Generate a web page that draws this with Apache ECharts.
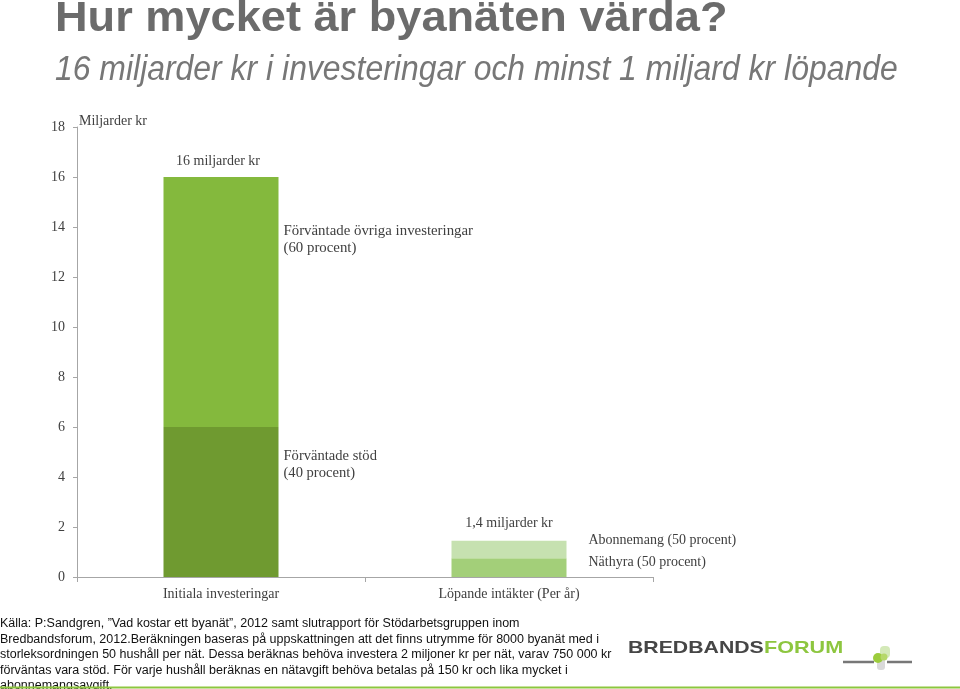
<!DOCTYPE html>
<html>
<head>
<meta charset="utf-8">
<script src="https://cdn.jsdelivr.net/npm/echarts@6/dist/echarts.min.js"></script>
<style>html,body{margin:0;padding:0;background:#fff;}#c{width:960px;height:689px;}</style>
</head>
<body>
<div id="c"></div>
<script>
// Data
const categories = ['Initiala investeringar', 'Löpande intäkter (Per år)'];
const stod = [6, null];          // Förväntade stöd (40 procent)
const ovriga = [10, null];       // Förväntade övriga investeringar (60 procent)
const nathyra = [null, 0.75];    // Näthyra (50 procent)
const abonnemang = [null, 0.7];  // Abonnemang (50 procent)
const yMin = 0, yMax = 18, yInterval = 2;

const serif = '"Liberation Serif", "DejaVu Serif", serif';
const sans = '"Liberation Sans", Arial, sans-serif';

const chart = echarts.init(document.getElementById('c'));
const barW = 115;
const option = {
  animation: false,
  backgroundColor: '#fff',
  grid: { left: 77, right: 307, top: 127, bottom: 112, containLabel: false },
  xAxis: {
    type: 'category', data: categories,
    axisLine: { lineStyle: { color: '#a6a6a6', width: 1 } },
    axisTick: { show: true, length: 5, lineStyle: { color: '#a6a6a6' } },
    axisLabel: { margin: 10, fontFamily: serif, fontSize: 14, color: '#404040' }
  },
  yAxis: {
    type: 'value', min: yMin, max: yMax, interval: yInterval,
    axisLine: { show: true, lineStyle: { color: '#a6a6a6' } },
    axisTick: { show: true, length: 4, lineStyle: { color: '#a6a6a6' } },
    splitLine: { show: false },
    axisLabel: { margin: 12, fontFamily: serif, fontSize: 14, color: '#404040' }
  },
  series: [
    { name: 'Förväntade stöd', type: 'bar', stack: 't', data: stod, barWidth: barW, itemStyle: { color: '#6f9a30' } },
    { name: 'Förväntade övriga investeringar', type: 'bar', stack: 't', data: ovriga, barWidth: barW, itemStyle: { color: '#84b93d' } },
    { name: 'Näthyra', type: 'bar', stack: 't', data: nathyra, barWidth: barW, itemStyle: { color: '#a3cf79' } },
    { name: 'Abonnemang', type: 'bar', stack: 't', data: abonnemang, barWidth: barW, itemStyle: { color: '#c6e1b0' } }
  ]
};
chart.setOption(option);

function px(cat, v) { return chart.convertToPixel({ xAxisIndex: 0, yAxisIndex: 0 }, [cat, v]); }
const c0 = px(categories[0], 0), c1 = px(categories[1], 0);
const tot0 = stod[0] + ovriga[0];
const tot1 = nathyra[1] + abonnemang[1];
const t = (text, x, y, opts, extra) => Object.assign({
  type: 'text', x: x, y: y,
  style: Object.assign({ text: text, fontFamily: serif, fontSize: 14, fill: '#404040', textVerticalAlign: 'middle', textAlign: 'left' }, opts || {})
}, extra || {});
const graphics = [
  // Titles
  { type: 'text', x: 55, y: 19, scaleX: 1.05, style: { text: 'Hur mycket är byanäten värda?', fontFamily: sans, fontWeight: 'bold', fontSize: 43, fill: '#6b6b6b', textVerticalAlign: 'middle' } },
  { type: 'text', x: 55, y: 70, scaleX: 0.912, style: { text: '16 miljarder kr i investeringar och minst 1 miljard kr löpande', fontFamily: sans, fontStyle: 'italic', fontSize: 35, fill: '#777777', textVerticalAlign: 'middle' } },
  // axis unit
  t('Miljarder kr', 79, px(categories[0], yMax)[1] - 6),
  // annotations
  t('16 miljarder kr', c0[0] - 3, px(categories[0], tot0)[1] - 16, { textAlign: 'center' }),
  t('Förväntade övriga investeringar\n(60 procent)', c0[0] + barW / 2 + 5, px(categories[0], 13.5)[1], { lineHeight: 17 }, { scaleX: 1.06 }),
  t('Förväntade stöd\n(40 procent)', c0[0] + barW / 2 + 5, px(categories[0], 4.5)[1], { lineHeight: 17 }, { scaleX: 1.04 }),
  t('1,4 miljarder kr', c1[0], px(categories[1], tot1)[1] - 17, { textAlign: 'center' }),
  t('Abonnemang (50 procent)', c1[0] + barW / 2 + 22, px(categories[1], 1.45)[1]),
  t('Näthyra (50 procent)', c1[0] + barW / 2 + 22, px(categories[1], 0.6)[1]),
  // footer
  { type: 'text', x: 0, y: 616, style: { text: 'Källa: P:Sandgren, ”Vad kostar ett byanät”, 2012 samt slutrapport för Stödarbetsgruppen inom\nBredbandsforum, 2012.Beräkningen baseras på uppskattningen att det finns utrymme för 8000 byanät med i\nstorleksordningen 50 hushåll per nät. Dessa beräknas behöva investera 2 miljoner kr per nät, varav 750 000 kr\nförväntas vara stöd. För varje hushåll beräknas en nätavgift behöva betalas på 150 kr och lika mycket i\nabonnemangsavgift.', fontFamily: sans, fontSize: 12.5, lineHeight: 15.5, fill: '#111', textVerticalAlign: 'top' } },
  // logo
  { type: 'text', x: 628, y: 648, scaleX: 1.25, style: { text: 'BREDBANDS', fontFamily: sans, fontWeight: 'bold', fontSize: 17, fill: '#464646', textVerticalAlign: 'middle' } },
  { type: 'text', x: 764, y: 648, scaleX: 1.27, style: { text: 'FORUM', fontFamily: sans, fontWeight: 'bold', fontSize: 17, fill: '#8dc63f', textVerticalAlign: 'middle' } },
  { type: 'line', shape: { x1: 843, y1: 662, x2: 874, y2: 662 }, style: { stroke: '#777', lineWidth: 2.5 } },
  { type: 'line', shape: { x1: 887, y1: 662, x2: 912, y2: 662 }, style: { stroke: '#777', lineWidth: 2.5 } },
  { type: 'rect', shape: { x: 877, y: 654, width: 8, height: 16, r: 3 }, style: { fill: '#cfcfcf', opacity: 0.8 } },
  { type: 'rect', shape: { x: 880, y: 646, width: 10, height: 12, r: 4 }, style: { fill: '#c9e3a6', opacity: 0.8 } },
  { type: 'circle', shape: { cx: 878, cy: 658, r: 5 }, style: { fill: '#9ccc3c' } },
  { type: 'circle', shape: { cx: 884, cy: 657, r: 3.5 }, style: { fill: '#b6d86a' } },
  // bottom green line
  { type: 'line', shape: { x1: 0, y1: 687.5, x2: 960, y2: 687.5 }, style: { stroke: '#8dc63f', lineWidth: 2 } }
];
chart.setOption({ graphic: graphics });
</script>
</body>
</html>
